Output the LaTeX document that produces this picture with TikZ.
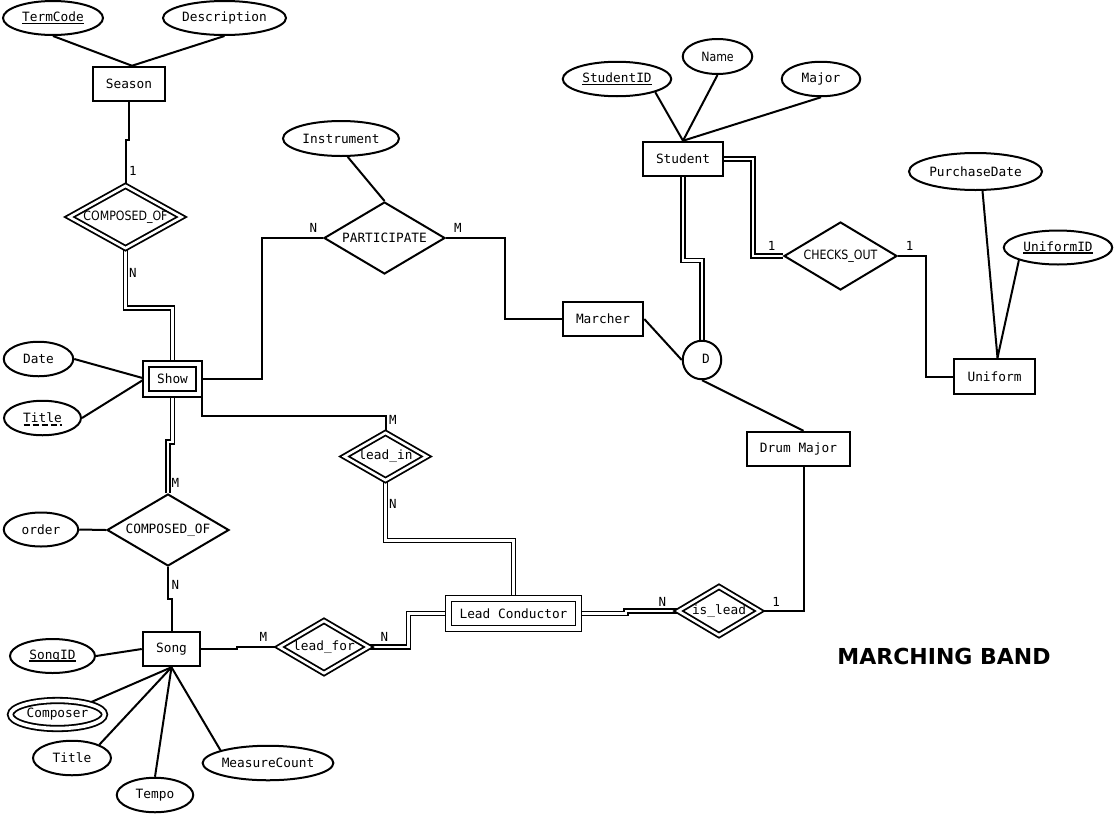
\documentclass[tikz,border=0pt]{standalone}
\usepackage{fontspec}
\setmainfont{DejaVu Sans Mono}
\newfontfamily\dvsans{DejaVu Sans}
\newfontfamily\dvcond{DejaVu Sans}[FakeStretch=0.86]
\newcommand{\myul}[1]{\setbox0\hbox{#1}\rlap{\rule[-2.4pt]{\wd0}{1.3pt}}\box0}
\usetikzlibrary{shapes.geometric,backgrounds,calc}
\tikzset{
  base/.style={draw, fill=white, line width=2pt, inner sep=0pt, font=\fontsize{12.8}{14}\selectfont},
  ent/.style={base, rectangle},
  went/.style={base, rectangle, double, double distance=4.2pt, line width=1.8pt},
  attr/.style={base, ellipse},
  mattr/.style={base, ellipse, double, double distance=3.6pt, line width=1.8pt},
  rel/.style={base, diamond, inner sep=-2pt, aspect=1.7},
  wrel/.style={base, diamond, inner sep=-2pt, aspect=1.7, double, double distance=2.6pt, line width=1.8pt},
  card/.style={inner sep=0pt, font=\fontsize{12.5}{14}\selectfont},
  conn/.style={line width=2pt},
  dconn/.style={double, double distance=2.2pt, line width=1.8pt},
}
\begin{document}
\begin{tikzpicture}[x=1pt,y=-1pt]
\useasboundingbox (0,0) rectangle (1115,814);
\begin{scope}[on background layer]
  \fill[white] (0,0) rectangle (1115,814);
\end{scope}

% ---------- nodes ----------
\node[attr, minimum width=100pt, minimum height=34pt] (termcode) at (53,18) {\myul{TermCode}};
\node[attr, minimum width=123pt, minimum height=34pt] (description) at (224.5,18) {Description};
\node[ent, minimum width=72.5pt, minimum height=34.5pt] (season) at (129,84) {Season};
\node[wrel, minimum width=113pt, minimum height=63pt] (comp1) at (125.5,217) {{\dvcond COMPOSED\_OF}};
\node[went, minimum width=53pt, minimum height=30pt] (show) at (172.5,378.7) {Show};
\node[attr, minimum width=69.5pt, minimum height=34.5pt] (date) at (38.5,359) {Date};
\node[attr, minimum width=77pt, minimum height=34.5pt] (title1) at (42.5,418) {Title};
\node[rel, minimum width=121pt, minimum height=72pt] (participate) at (384.5,238) {PARTICIPATE};
\node[attr, minimum width=116pt, minimum height=35pt] (instrument) at (341,138.5) {Instrument};
\node[ent, minimum width=80.5pt, minimum height=34.5pt] (marcher) at (603,319) {Marcher};
\node[wrel, minimum width=83pt, minimum height=48pt] (leadin) at (385.5,456.5) {lead\_in};
\node[rel, minimum width=122pt, minimum height=72pt] (comp2) at (168,530) {COMPOSED\_OF};
\node[attr, minimum width=74.5pt, minimum height=34pt] (order) at (41,529.5) {order};
\node[ent, minimum width=57.5pt, minimum height=34.5pt] (song) at (171.5,649) {Song};
\node[attr, minimum width=85pt, minimum height=34pt] (songid) at (52.5,656) {\myul{SongID}};
\node[mattr, minimum width=94pt, minimum height=28pt] (composer) at (57.5,714.5) {Composer};
\node[attr, minimum width=78pt, minimum height=34.5pt] (title2) at (72,758) {Title};
\node[attr, minimum width=76.5pt, minimum height=34.5pt] (tempo) at (155,795) {Tempo};
\node[attr, minimum width=130.5pt, minimum height=34.5pt] (measure) at (268,763) {MeasureCount};
\node[wrel, minimum width=90pt, minimum height=53pt] (leadfor) at (324,647) {lead\_for};
\node[went, minimum width=130pt, minimum height=30pt] (leadcond) at (513.5,613.5) {Lead Conductor};
\node[wrel, minimum width=82pt, minimum height=49pt] (islead) at (719,611) {is\_lead};
\node[ent, minimum width=103.5pt, minimum height=34.5pt] (drummajor) at (798.5,449) {Drum Major};
\node[ent, minimum width=80.5pt, minimum height=34.5pt] (student) at (683,159) {Student};
\node[attr, minimum width=108.5pt, minimum height=34.5pt] (studentid) at (617,79) {\myul{StudentID}};
\node[attr, minimum width=69.5pt, minimum height=35pt] (name) at (717.5,56.5) {{\dvcond Name}};
\node[attr, minimum width=78.5pt, minimum height=34.5pt] (major) at (821,79) {Major};
\node[rel, minimum width=113pt, minimum height=68pt] (checksout) at (840.5,256) {{\dvcond CHECKS\_OUT}};
\node[base, circle, minimum size=38.5pt] (dcirc) at (702,360) {\raisebox{2.5pt}{\hspace*{8pt}D}};
\node[ent, minimum width=81.5pt, minimum height=35.5pt] (uniform) at (994.5,376.5) {Uniform};
\node[attr, minimum width=133pt, minimum height=37pt] (purchasedate) at (975.5,171.5) {PurchaseDate};
\node[attr, minimum width=108.5pt, minimum height=34pt] (uniformid) at (1058,247.5) {\myul{UniformID}};

\node[inner sep=0pt, font=\dvsans\bfseries\fontsize{22}{26}\selectfont] (heading) at (944,656.5) {MARCHING BAND};

% dashed underline of partial key
\draw[line width=1.4pt, dash pattern=on 6pt off 3pt] ($(title1.center)+(-19,7)$) -- ($(title1.center)+(19,7)$);

% cardinality labels
\node[card] (k1) at (133,171) {1};
\node[card] (k2) at (133,273) {N};
\node[card] (k3) at (313.5,228) {N};
\node[card] (k4) at (458,228) {M};
\node[card] (k5) at (393,419.5) {M};
\node[card] (k6) at (393,503.5) {N};
\node[card] (k7) at (175.5,482.5) {M};
\node[card] (k8) at (175.5,584.5) {N};
\node[card] (k9) at (263.5,637) {M};
\node[card] (k10) at (384.5,637) {N};
\node[card] (k11) at (662.5,601.5) {N};
\node[card] (k12) at (776,602) {1};
\node[card] (k13) at (771.5,245.5) {1};
\node[card] (k14) at (909.5,245.5) {1};

\coordinate (showse) at ([xshift=2.5pt]show.south east);

% ---------- connectors ----------
\begin{scope}[on background layer]
\draw[conn] (termcode.south) -- ([xshift=3pt]season.north);
\draw[conn] (description.south) -- ([xshift=3pt]season.north);
\draw[conn] (season.south) -- (season.south |- 0,140) -| (comp1.north);
\draw[dconn] (comp1.south) -- (comp1.south |- 0,308) -| (show.north);
\draw[conn] (date.east) -- (show.west);
\draw[conn] (title1.east) -- (show.west);
\draw[conn] (show.east) -- (show.east -| 262,0) |- (participate.west);
\draw[conn] (showse) -- (showse |- 0,416) -| (leadin.north);
\draw[dconn] (leadin.south) -- (leadin.south |- 0,540.5) -| (leadcond.north);
\draw[conn] (participate.east) -- (participate.east -| 505,0) |- (marcher.west);
\draw[conn] (instrument.-70) -- (participate.north);
\draw[dconn] (show.south) -- (show.south |- 0,442) -| (comp2.north);
\draw[conn] (order.east) -- (comp2.west);
\draw[conn] (comp2.south) -- (comp2.south |- 0,599) -| (song.north);
\draw[conn] (songid.east) -- (song.west);
\draw[conn] (song.south) -- (composer.20);
\draw[conn] (song.south) -- (title2.26);
\draw[conn] (song.south) -- (tempo.north);
\draw[conn] (song.south) -- (measure.165);
\draw[conn] (song.east) -- (song.east -| 237,0) |- (leadfor.west);
\draw[dconn] (leadfor.east) -- (leadfor.east -| 408.5,0) |- (leadcond.west);
\draw[dconn] (leadcond.east) -- (leadcond.east -| 626,0) |- (islead.west);
\draw[conn] (islead.east) -| ([xshift=5.5pt]drummajor.south);
\draw[conn] (dcirc.south) -- ([xshift=5pt]drummajor.north);
\draw[conn] (marcher.east) -- (dcirc.west);
\draw[dconn] (student.south) -- (student.south |- 0,260.5) -| (dcirc.north);
\draw[dconn] (student.east) -- (student.east -| 753,0) |- (checksout.west);
\draw[conn] (checksout.east) -- (checksout.east -| 926,0) |- (uniform.west);
\draw[conn] (studentid.-19) -- (student.north);
\draw[conn] (name.south) -- (student.north);
\draw[conn] (major.south) -- (student.north);
\draw[conn] ([xshift=7pt]purchasedate.south) -- ([xshift=3pt]uniform.north);
\draw[conn] (uniformid.198) -- ([xshift=3pt]uniform.north);
\end{scope}
\end{tikzpicture}
\end{document}
